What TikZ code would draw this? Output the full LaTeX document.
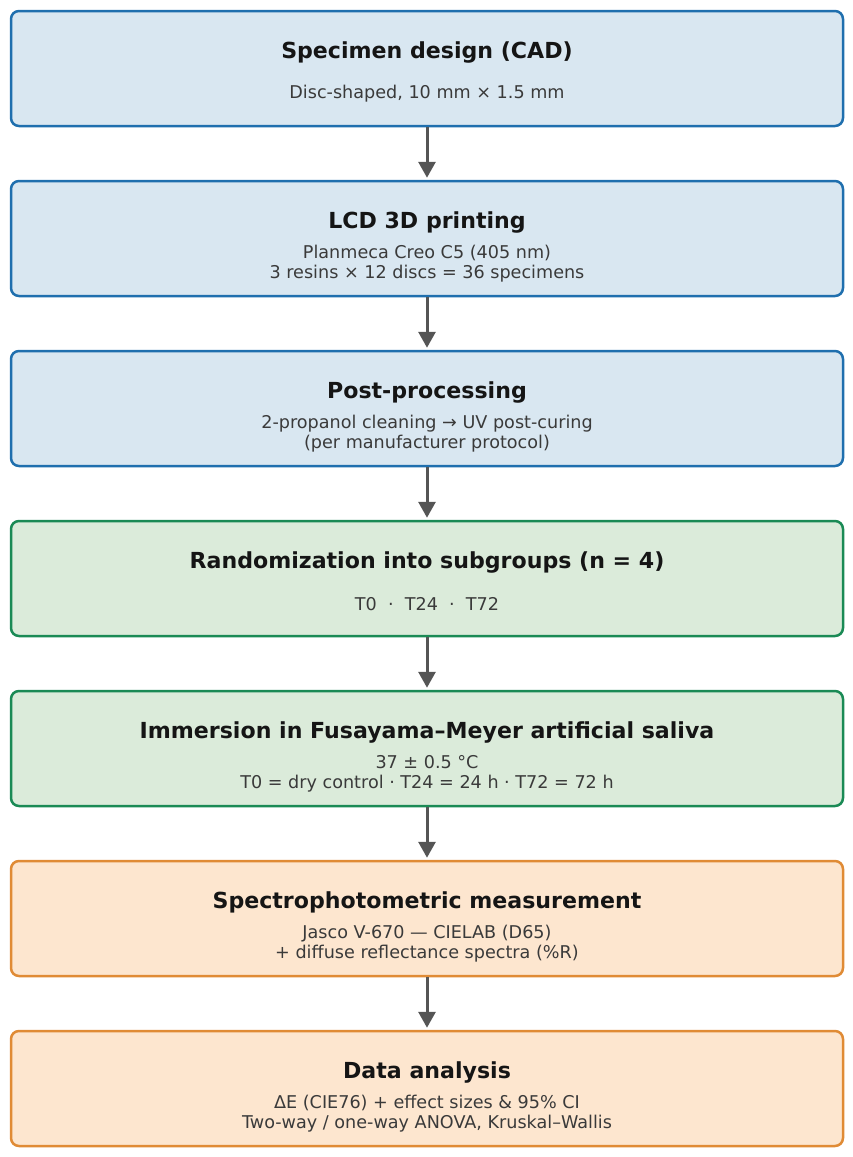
\documentclass[tikz,border=0pt]{standalone}
\usepackage{fontspec}
\setmainfont{DejaVu Sans}
\usetikzlibrary{arrows.meta}
\definecolor{bluebd}{HTML}{1F6FAE}
\definecolor{bluefill}{HTML}{D9E7F1}
\definecolor{greenbd}{HTML}{1A8A55}
\definecolor{greenfill}{HTML}{DBEBDA}
\definecolor{orangebd}{HTML}{E08B35}
\definecolor{orangefill}{HTML}{FDE6CF}
\definecolor{arrowgray}{HTML}{555555}
\definecolor{titlecol}{HTML}{151515}
\definecolor{subcol}{HTML}{3A3A3A}
\tikzset{
  x=1pt,y=1pt,
  box/.style={rounded corners=8pt, line width=2.5pt, minimum width=832pt, minimum height=115pt, inner sep=0pt},
  bluebox/.style={box, draw=bluebd, fill=bluefill},
  greenbox/.style={box, draw=greenbd, fill=greenfill},
  orangebox/.style={box, draw=orangebd, fill=orangefill},
  ttl/.style={font=\fontsize{22.1}{26}\selectfont\bfseries, text=titlecol, inner sep=0pt},
  sub/.style={font=\fontsize{17.6}{20}\selectfont, text=subcol, align=center, inner sep=0pt},
  flow/.style={draw=arrowgray, line width=3pt, -{Triangle[length=16pt,width=17pt]}, shorten >=2pt}
}
\begin{document}
\begin{tikzpicture}
\useasboundingbox (0,0) rectangle (853,-1157);
% boxes
\node[bluebox]   (b1) at (427,-68.5) {};
\node[bluebox]   (b2) at (427,-238.5) {};
\node[bluebox]   (b3) at (427,-408.5) {};
\node[greenbox]  (b4) at (427,-578.5) {};
\node[greenbox]  (b5) at (427,-748.5) {};
\node[orangebox] (b6) at (427,-918.5) {};
\node[orangebox] (b7) at (427,-1088.5) {};
% texts
\node[ttl] (t1) at (427,-52) {Specimen design (CAD)};
\node[sub] (s1) at (427,-94) {Disc-shaped, 10 mm × 1.5 mm};
\node[ttl] (t2) at (427,-222) {LCD 3D printing};
\node[sub] (s2) at (427,-264) {Planmeca Creo C5 (405 nm)\\3 resins × 12 discs = 36 specimens};
\node[ttl] (t3) at (427,-392) {Post-processing};
\node[sub] (s3) at (427,-434) {2-propanol cleaning → UV post-curing\\(per manufacturer protocol)};
\node[ttl] (t4) at (427,-562) {Randomization into subgroups (n = 4)};
\node[sub] (s4) at (427,-604) {T0 \ · \ T24 \ · \ T72};
\node[ttl] (t5) at (427,-732) {Immersion in Fusayama–Meyer artificial saliva};
\node[sub] (s5) at (427,-774) {37 ± 0.5 °C\\T0 = dry control · T24 = 24 h · T72 = 72 h};
\node[ttl] (t6) at (427,-902) {Spectrophotometric measurement};
\node[sub] (s6) at (427,-944) {Jasco V-670 — CIELAB (D65)\\+ diffuse reflectance spectra (\%R)};
\node[ttl] (t7) at (427,-1072) {Data analysis};
\node[sub] (s7) at (427,-1114) {ΔE (CIE76) + effect sizes \& 95\% CI\\Two-way / one-way ANOVA, Kruskal–Wallis};
% arrows
\draw[flow] (b1.south) -- (b2.north);
\draw[flow] (b2.south) -- (b3.north);
\draw[flow] (b3.south) -- (b4.north);
\draw[flow] (b4.south) -- (b5.north);
\draw[flow] (b5.south) -- (b6.north);
\draw[flow] (b6.south) -- (b7.north);
\end{tikzpicture}
\end{document}
